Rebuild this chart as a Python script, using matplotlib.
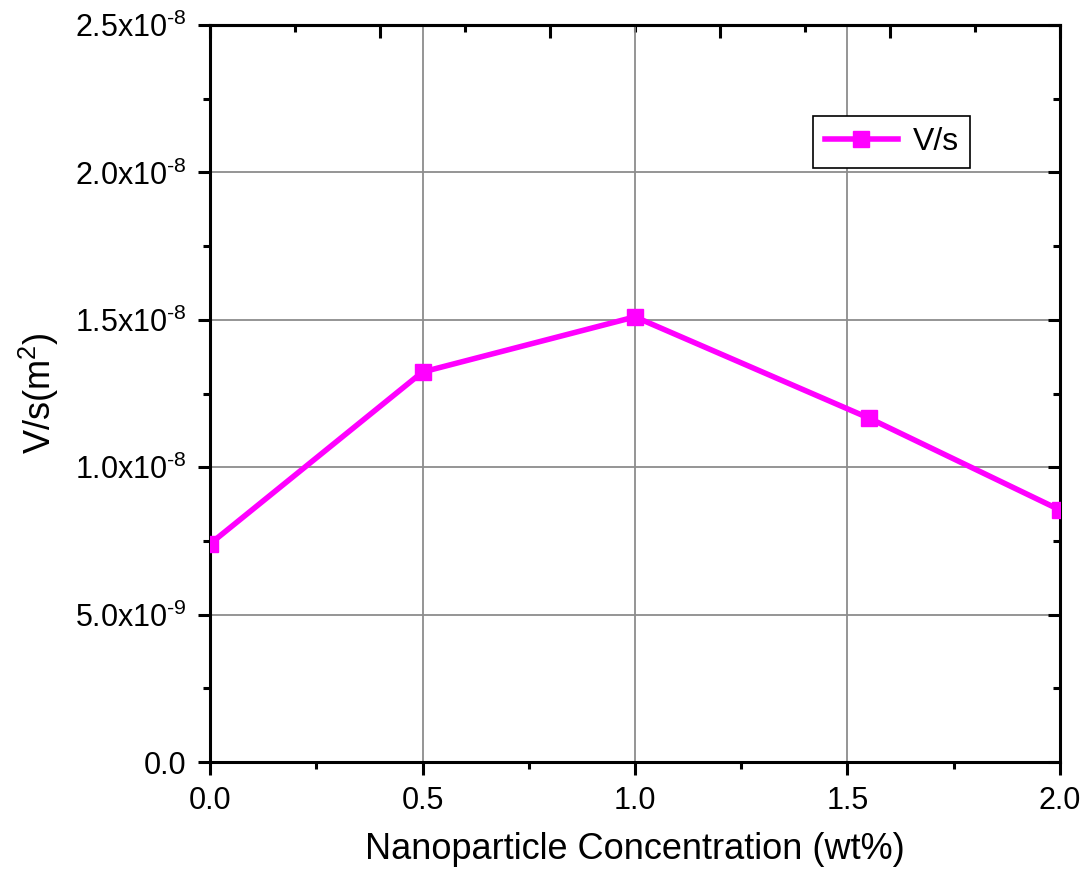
import matplotlib
matplotlib.use('Agg')
import matplotlib.pyplot as plt
from matplotlib.ticker import MultipleLocator, FuncFormatter

plt.rcParams['font.family'] = ['Liberation Sans', 'DejaVu Sans']
plt.rcParams['mathtext.fontset'] = 'custom'
plt.rcParams['mathtext.rm'] = 'Liberation Sans'
plt.rcParams['mathtext.it'] = 'Liberation Sans'
plt.rcParams['mathtext.default'] = 'regular'

# nanoparticle concentration (wt%) and V/s values (m^2)
conc = [0.0, 0.5, 1.0, 1.55, 2.0]
vs = [7.4e-9, 1.323e-8, 1.51e-8, 1.167e-8, 8.55e-9]


def sci_label(v, pos):
    if abs(v) < 1e-20:
        return '0.0'
    exp = int(f'{v:e}'.split('e')[1])
    mant = v / 10 ** exp
    # plain hyphen in the exponent instead of a minus sign
    return '%.1fx10$^{\u2010%d}$' % (mant, -exp)


fig = plt.figure(figsize=(10.86, 8.8), dpi=100)
ax = fig.add_axes([0.1934, 0.134, 0.7826, 0.8376])

ax.plot(conc, vs, color='#ff00ff', lw=4.0, marker='s', ms=11,
        label='V/s', zorder=3)

ax.set_xlim(0, 2.0)
ax.set_ylim(0, 2.5e-8)
ax.xaxis.set_major_locator(MultipleLocator(0.5))
ax.xaxis.set_minor_locator(MultipleLocator(0.25))
ax.yaxis.set_major_locator(MultipleLocator(0.5e-8))
ax.yaxis.set_minor_locator(MultipleLocator(0.25e-8))
ax.yaxis.set_major_formatter(FuncFormatter(sci_label))
ax.xaxis.set_major_formatter(FuncFormatter(lambda v, p: '%.1f' % v))

ax.grid(True, which='major', color='#8c8c8c', lw=1.3)
ax.set_axisbelow(True)

for s in ax.spines.values():
    s.set_linewidth(2.2)

ax.tick_params(which='major', direction='out', length=9, width=2.2,
               labelsize=22, pad=8)
ax.tick_params(which='minor', direction='out', length=5, width=2.2)
ax.tick_params(which='both', right=True)

# ticks on the right side point inward
for t in ax.yaxis.get_major_ticks() + ax.yaxis.get_minor_ticks():
    t.tick2line.set_marker(matplotlib.lines.TICKLEFT)

# top axis with its own inward ticks
top = ax.secondary_xaxis('top')
top.xaxis.set_major_locator(MultipleLocator(0.4))
top.xaxis.set_minor_locator(MultipleLocator(0.2))
top.tick_params(which='major', direction='in', length=9, width=2.2,
                labeltop=False)
top.tick_params(which='minor', direction='in', length=5, width=2.2)
top.spines['top'].set_linewidth(2.2)

ax.set_xlabel('Nanoparticle Concentration (wt%)', fontsize=26, labelpad=12)
ax.set_ylabel(r'V/s(m$^2$)', fontsize=26, labelpad=10)

leg = ax.legend(loc='upper left', bbox_to_anchor=(0.710, 0.877),
                fontsize=23, fancybox=False, framealpha=1,
                edgecolor='black', handlelength=2.3, borderpad=0.35,
                handletextpad=0.45, borderaxespad=0)
leg.get_frame().set_linewidth(1.2)

fig.savefig('out.png', dpi=100)
